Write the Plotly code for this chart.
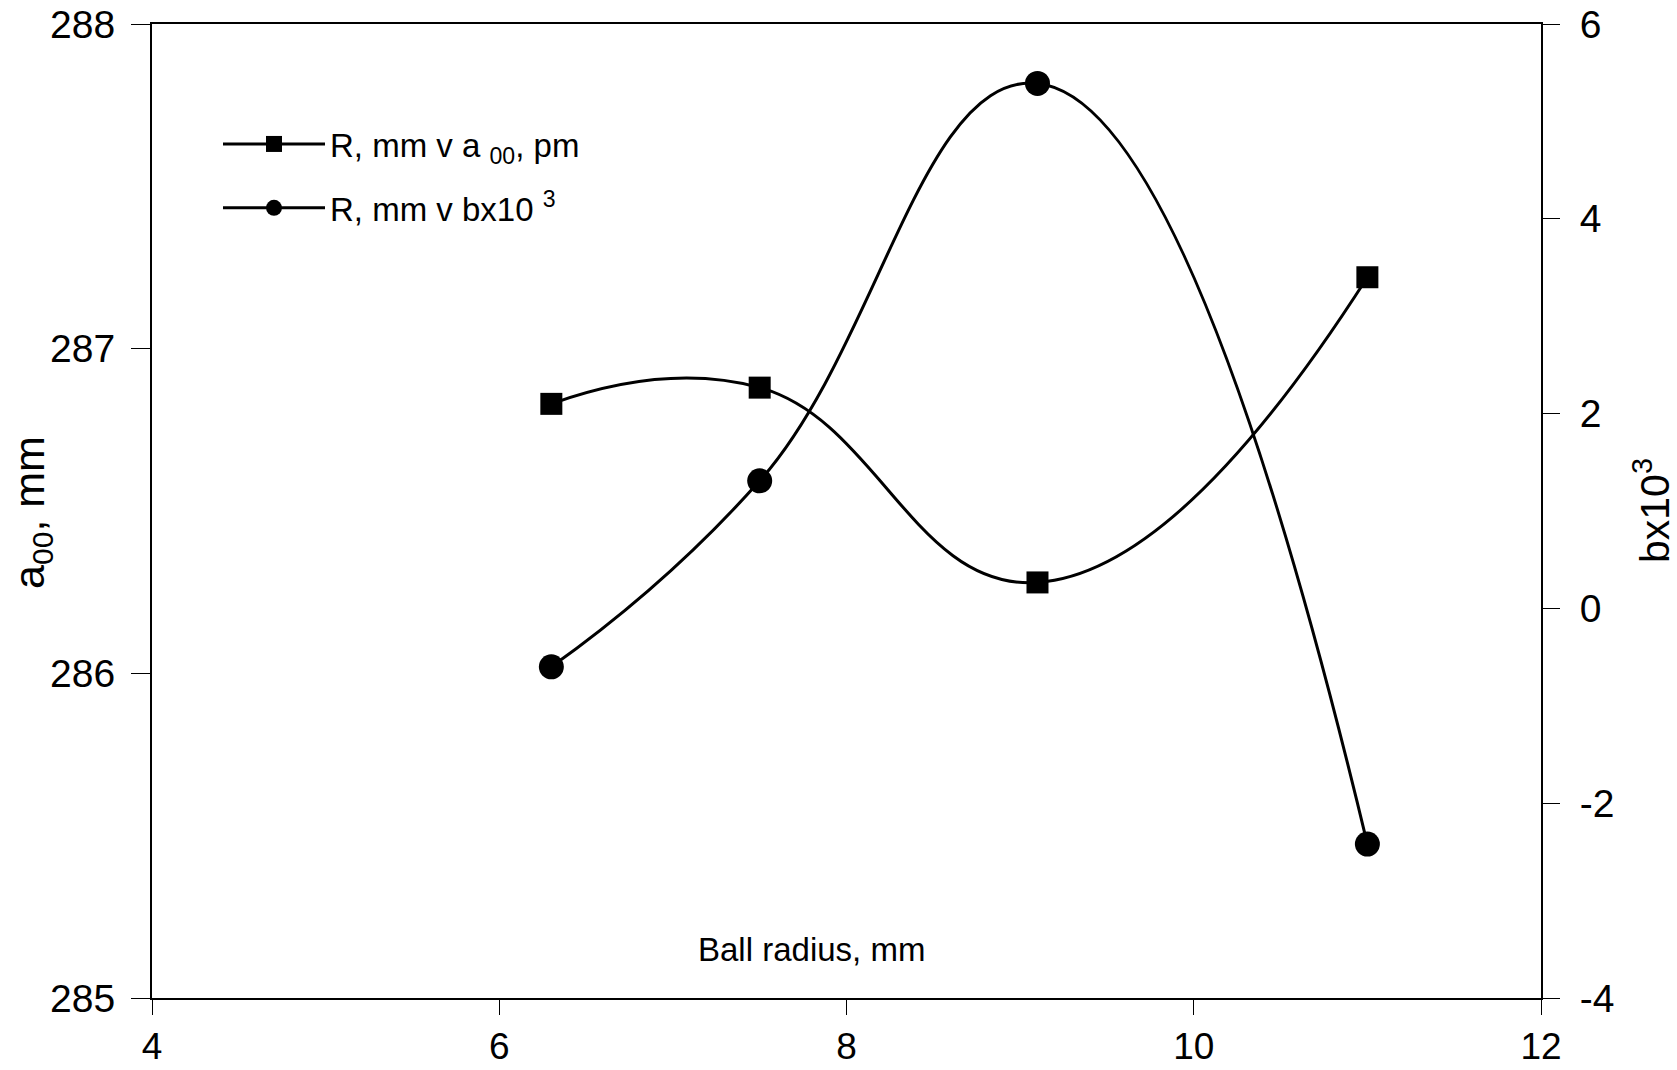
import plotly.graph_objects as go

# Data
radius_mm = [6.3, 7.5, 9.1, 11.0]
a00_pm = [286.83, 286.88, 286.28, 287.22]
b_x1e3 = [-0.60, 1.31, 5.39, -2.42]

x_ticks = [4, 6, 8, 10, 12]
y_left_ticks = [285, 286, 287, 288]
y_right_ticks = [-4, -2, 0, 2, 4, 6]
y_right_labels = ["-4", "-2", "0", "2", "4", "6"]

FONT = "Liberation Sans, Arial, sans-serif"

fig = go.Figure()
fig.add_trace(go.Scatter(
    x=radius_mm, y=a00_pm, name="R, mm v a <sub>00</sub>, pm", legendgroup="a",
    mode="lines+markers", line=dict(color="black", width=3, shape="spline", smoothing=1.3),
    marker=dict(symbol="square", size=22, color="black"), yaxis="y"))
fig.add_trace(go.Scatter(
    x=radius_mm, y=b_x1e3, name="R, mm v bx10 <sup>3</sup>", legendgroup="b",
    mode="lines+markers", line=dict(color="black", width=3, shape="spline", smoothing=1.3),
    marker=dict(symbol="circle", size=25, color="black"), yaxis="y2"))

axis_common = dict(showgrid=False, zeroline=False, showline=True, linecolor="black",
                   linewidth=2, ticks="outside", tickcolor="black", tickwidth=1,
                   automargin=False)

fig.update_layout(
    width=1677, height=1070,
    margin=dict(l=152, r=136, t=24, b=72),
    paper_bgcolor="white", plot_bgcolor="white",
    font=dict(family=FONT, color="black"),
    showlegend=True,
    legend=dict(x=(218 - 152) / 1389, y=1 - (116 - 24) / 974, xanchor="left", yanchor="top",
                bgcolor="rgba(0,0,0,0)", font=dict(family=FONT, size=33, color="black"),
                tracegroupgap=18, itemwidth=102),
    xaxis=dict(range=[4, 12], tickvals=x_ticks, ticklen=15, ticklabelstandoff=0,
               mirror=True, tickfont=dict(family=FONT, size=37, color="black"),
               **axis_common),
    yaxis=dict(range=[285, 288], tickvals=y_left_ticks, ticklen=19, ticklabelstandoff=8,
               tickfont=dict(family=FONT, size=39, color="black"), **axis_common),
    yaxis2=dict(range=[-4, 6], tickvals=y_right_ticks, ticktext=y_right_labels,
                overlaying="y", side="right", ticklen=17, ticklabelstandoff=12,
                tickfont=dict(family=FONT, size=39, color="black"), **axis_common),
)

fig.add_annotation(text="Ball radius, mm", xref="paper", yref="paper",
                   x=(811 - 152) / 1389, y=1 - (949 - 24) / 974,
                   xanchor="center", yanchor="middle",
                   showarrow=False, font=dict(family=FONT, size=33, color="black"))
fig.add_annotation(text="a<sub>00</sub>, mm", xref="paper", yref="paper",
                   x=(32 - 152) / 1389, y=1 - (513 - 24) / 974, textangle=-90,
                   xanchor="center", yanchor="middle",
                   showarrow=False, font=dict(family=FONT, size=43, color="black"))
fig.add_annotation(text="bx10<sup>3</sup>", xref="paper", yref="paper",
                   x=(1652 - 152) / 1389, y=1 - (510 - 24) / 974, textangle=-90,
                   xanchor="center", yanchor="middle",
                   showarrow=False, font=dict(family=FONT, size=41, color="black"))

fig.write_html("out.html")
